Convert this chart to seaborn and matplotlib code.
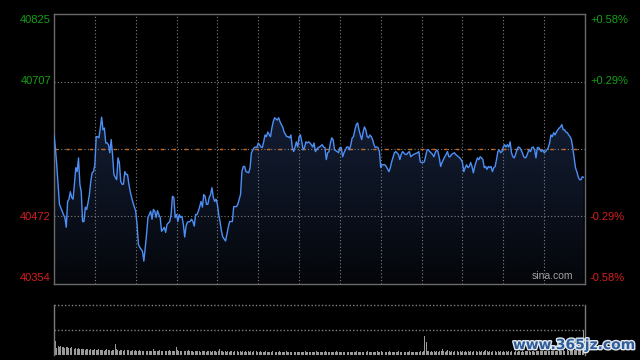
import numpy as np
import matplotlib
matplotlib.use("Agg")
import matplotlib.pyplot as plt
import matplotlib.patheffects as pe
from matplotlib.colors import LinearSegmentedColormap
import seaborn as sns

# intraday index values (minute of session, price)
minute = [0, 1, 2, 3, 4, 6, 7, 8, 9, 10, 11, 12, 13, 14, 15, 16, 17, 18, 19, 20,
          21, 22, 23, 24, 25, 26, 27, 28, 29, 30, 31, 32, 33, 34, 35, 36, 37, 38, 39, 40,
          41, 42, 43, 44, 45, 46, 47, 48, 49, 50, 51, 52, 53, 54, 55, 56, 57, 58, 60, 61,
          62, 63, 65, 66, 67, 68, 69, 70, 71, 72, 73, 74, 75, 76, 77, 78, 79, 80, 81, 82,
          83, 85, 86, 87, 88, 89, 90, 91, 92, 93, 94, 95, 96, 97, 98, 100, 101, 102, 103, 104,
          105, 106, 107, 108, 109, 110, 111, 112, 113, 114, 115, 116, 117, 118, 119, 120, 121, 122, 123, 124,
          126, 127, 128, 129, 130, 131, 132, 134, 135, 137, 138, 139, 140, 141, 143, 144, 145, 147, 148, 149,
          150, 151, 152, 153, 154, 155, 156, 157, 159, 160, 161, 162, 164, 165, 166, 167, 168, 169, 171, 172,
          173, 174, 175, 176, 177, 178, 179, 180, 181, 182, 183, 184, 185, 186, 187, 188, 189, 190, 191, 192,
          194, 195, 197, 198, 199, 200, 201, 202, 203, 204, 205, 206, 208, 209, 210, 211, 212, 213, 214, 215,
          216, 217, 218, 219, 220, 221, 222, 223, 224, 225, 226, 227, 228, 229, 230, 231, 232, 233, 234, 235,
          236, 237, 238, 239, 240, 241, 242, 243, 244, 246, 247, 248, 250, 251, 253, 254, 255, 256, 258, 259,
          260, 261, 262, 264, 265, 267, 268, 269, 270, 271, 272, 274, 275, 276, 278, 279, 280, 281, 282, 283,
          284, 285, 286, 287, 288, 289, 290, 291, 292, 294, 295, 297, 298, 299, 300, 301, 302, 303, 304, 305,
          306, 307, 308, 309, 310, 311, 312, 313, 314, 315, 316, 317, 318, 319, 320, 321, 322, 323, 324, 325,
          326, 327, 328, 329, 330, 331, 332, 333, 334, 335, 336, 337, 338, 339, 340, 341, 342, 343, 344, 345,
          346, 347, 348, 349, 350, 351, 352, 353, 354, 355, 356, 357, 358, 359, 360, 361, 362, 363, 364, 365,
          366, 367, 368, 369, 370, 371, 372, 373, 374, 375, 376, 377, 378, 379, 380, 381, 382, 383, 384, 385,
          386, 387, 388, 389]
price = [40614, 40592, 40562, 40528, 40493, 40481, 40475, 40470, 40453, 40498, 40502, 40515, 40505, 40502, 40528, 40557, 40550, 40574, 40528, 40515,
         40463, 40463, 40488, 40484, 40496, 40510, 40533, 40548, 40550, 40562, 40611, 40611, 40609, 40626, 40645, 40623, 40626, 40600, 40600, 40597,
         40583, 40606, 40580, 40545, 40540, 40536, 40574, 40566, 40533, 40528, 40528, 40550, 40545, 40545, 40528, 40515, 40505, 40496, 40481, 40458,
         40423, 40418, 40411, 40394, 40418, 40441, 40470, 40475, 40481, 40467, 40484, 40481, 40470, 40482, 40475, 40470, 40446, 40449, 40453, 40444,
         40458, 40463, 40475, 40507, 40505, 40470, 40475, 40463, 40475, 40470, 40472, 40458, 40436, 40455, 40462, 40463, 40467, 40463, 40455, 40475,
         40475, 40481, 40489, 40498, 40488, 40510, 40507, 40493, 40493, 40505, 40510, 40522, 40505, 40498, 40502, 40493, 40475, 40462, 40446, 40436,
         40429, 40441, 40453, 40463, 40463, 40463, 40489, 40489, 40493, 40510, 40550, 40559, 40559, 40550, 40548, 40557, 40583, 40592, 40593, 40592,
         40600, 40597, 40593, 40592, 40602, 40614, 40611, 40619, 40611, 40626, 40637, 40644, 40640, 40644, 40637, 40632, 40628, 40619, 40611, 40611,
         40609, 40614, 40592, 40585, 40593, 40602, 40593, 40611, 40614, 40602, 40588, 40592, 40602, 40600, 40602, 40600, 40597, 40593, 40600, 40585,
         40592, 40593, 40597, 40593, 40592, 40571, 40583, 40585, 40600, 40609, 40606, 40588, 40585, 40583, 40592, 40592, 40576, 40583, 40588, 40593,
         40593, 40588, 40597, 40609, 40611, 40623, 40632, 40635, 40623, 40614, 40606, 40619, 40628, 40623, 40611, 40609, 40614, 40611, 40606, 40597,
         40592, 40593, 40592, 40585, 40557, 40562, 40562, 40562, 40559, 40550, 40557, 40567, 40583, 40585, 40580, 40571, 40580, 40585, 40580, 40580,
         40583, 40585, 40576, 40580, 40581, 40583, 40585, 40567, 40566, 40566, 40567, 40588, 40588, 40585, 40580, 40576, 40583, 40588, 40585, 40574,
         40559, 40566, 40571, 40576, 40580, 40585, 40576, 40576, 40580, 40583, 40580, 40576, 40574, 40571, 40566, 40550, 40557, 40562, 40557, 40559,
         40566, 40559, 40548, 40559, 40567, 40574, 40571, 40576, 40574, 40571, 40557, 40559, 40554, 40559, 40557, 40559, 40550, 40557, 40559, 40571,
         40585, 40588, 40583, 40585, 40593, 40597, 40593, 40597, 40593, 40602, 40583, 40576, 40574, 40580, 40588, 40593, 40592, 40588, 40583, 40576,
         40574, 40576, 40583, 40588, 40585, 40592, 40593, 40588, 40574, 40592, 40592, 40588, 40585, 40588, 40583, 40585, 40588, 40592, 40600, 40614,
         40611, 40618, 40614, 40619, 40623, 40626, 40628, 40632, 40623, 40623, 40619, 40618, 40614, 40611, 40606, 40592, 40574, 40557, 40550, 40541,
         40536, 40536, 40541, 40540]

# per-minute volume (relative units, 100 = top of panel)
volume = [28, 15, 18, 17, 18, 16, 17, 15, 16, 17, 15, 14, 16, 14, 13, 15, 13, 14, 12, 13, 12, 13, 11, 12, 13, 11, 12, 10, 11, 12,
          11, 10, 12, 11, 10, 11, 9, 10, 12, 10, 11, 9, 10, 11, 22, 12, 10, 9, 11, 10, 9, 10, 9, 11, 10, 9, 8, 10, 9, 10,
          9, 8, 10, 9, 8, 9, 10, 8, 9, 8, 9, 8, 12, 9, 8, 9, 8, 10, 9, 8, 9, 8, 9, 8, 10, 9, 8, 9, 8, 17,
          10, 9, 8, 9, 8, 9, 8, 9, 10, 8, 9, 8, 7, 9, 8, 9, 8, 7, 8, 9, 8, 7, 8, 9, 8, 7, 8, 9, 8, 7,
          8, 12, 9, 8, 7, 8, 7, 8, 7, 9, 8, 7, 8, 7, 8, 7, 8, 7, 8, 7, 8, 7, 8, 7, 9, 7, 8, 7, 8, 7,
          7, 8, 7, 6, 7, 8, 7, 6, 7, 7, 8, 7, 6, 7, 7, 8, 7, 6, 7, 7, 8, 7, 6, 7, 7, 8, 7, 6, 7, 7,
          7, 6, 7, 7, 8, 7, 6, 7, 7, 6, 7, 7, 8, 7, 6, 7, 7, 6, 7, 8, 7, 6, 7, 7, 6, 7, 7, 8, 7, 6,
          7, 7, 6, 7, 8, 7, 6, 7, 7, 6, 7, 7, 8, 7, 6, 7, 7, 6, 7, 7, 8, 7, 6, 7, 7, 6, 7, 8, 7, 7,
          8, 7, 7, 6, 7, 7, 8, 7, 6, 7, 7, 6, 7, 8, 7, 6, 7, 7, 6, 7, 7, 8, 7, 6, 7, 7, 6, 7, 7, 8,
          7, 8, 38, 27, 9, 8, 7, 8, 7, 8, 7, 8, 7, 8, 9, 13, 8, 7, 8, 10, 8, 7, 8, 7, 8, 7, 8, 7, 8, 7,
          8, 7, 8, 7, 8, 7, 8, 7, 8, 7, 8, 7, 8, 7, 8, 7, 8, 10, 8, 7, 8, 7, 8, 7, 8, 7, 8, 7, 8, 7,
          8, 7, 8, 7, 8, 7, 8, 8, 7, 8, 7, 8, 8, 7, 8, 7, 8, 8, 9, 8, 7, 8, 8, 7, 8, 8, 9, 8, 8, 9,
          8, 9, 8, 8, 9, 8, 9, 9, 8, 9, 9, 10, 9, 9, 10, 9, 10, 10, 9, 10, 12, 10, 11, 10, 11, 12, 11, 12, 13, 50]

left_labels = ["40825", "40707", "40472", "40354"]
right_labels = ["+0.58%", "+0.29%", "-0.29%", "-0.58%"]
label_colors = ["#14a014", "#14a014", "#d41e1e", "#d41e1e"]
label_ypix = [20, 81, 217, 278]

base = 40589.5
ymin, ymax = 40354, 40825

sns.set_theme(style="dark", rc={"axes.facecolor": "black", "figure.facecolor": "black"})
plt.rcParams["font.family"] = ["Liberation Sans", "DejaVu Sans"]

fig = plt.figure(figsize=(6.4, 3.6), dpi=100, facecolor="black")
ax = fig.add_axes([54 / 640, 1 - 284 / 360, 531 / 640, 270 / 360])
axv = fig.add_axes([54 / 640, 1 - 355 / 360, 531 / 640, 50 / 360])

# gradient fill under the line
poly = ax.fill_between(minute, price, ymin, color="none", lw=0)
cmap = LinearSegmentedColormap.from_list("fade", ["#04060a", "#131d33"])
grad = np.linspace(0, 1, 256).reshape(-1, 1)
im = ax.imshow(grad, extent=[0, 390, ymin, max(price)], origin="lower",
               aspect="auto", cmap=cmap, zorder=1)
im.set_clip_path(poly.get_paths()[0], transform=ax.transData)

# grid
for m in range(30, 390, 30):
    ax.axvline(m, color="#808080", ls=(0, (1, 2)), lw=0.8, zorder=2)
for lv in [40707, 40472]:
    ax.axhline(lv, color="#808080", ls=(0, (1, 2)), lw=0.8, zorder=2)
ax.axhline(base, color="#808080", ls=(0, (1, 2)), lw=0.8, zorder=2)
ax.axhline(base, color="#c8681e", ls=(0, (2.5, 6)), lw=1.0, zorder=2)

sns.lineplot(x=minute, y=price, ax=ax, color="#4d8ff5", lw=1.0, zorder=3)

ax.set_xlim(0, 390)
ax.set_ylim(ymin, ymax)
ax.set_xticks([])
ax.set_yticks([])
ax.set_xlabel("")
ax.set_ylabel("")
for s in ax.spines.values():
    s.set_visible(True)
    s.set_color("#6a6a6a")
    s.set_linewidth(1)
ax.text(0.978, 0.012, "sina.com", transform=ax.transAxes, ha="right", va="bottom",
        color="#a0a0a0", fontsize=7.5)

# volume panel
sns.barplot(x=list(range(len(volume))), y=volume, native_scale=True, ax=axv,
            color="#9a9a9a", saturation=1, width=0.7, errorbar=None,
            edgecolor="none", linewidth=0, zorder=2)
axv.set_xlim(-1, 390)
axv.set_ylim(0, 100)
axv.set_xticks([])
axv.set_yticks([])
axv.set_xlabel("")
axv.set_ylabel("")
axv.axhline(100, color="#808080", ls=(0, (1, 1.5)), lw=1.0, clip_on=False)
axv.axhline(50, color="#808080", ls=(0, (1, 1.5)), lw=1.0)
for side, s in axv.spines.items():
    if side in ("left", "right"):
        s.set_visible(True)
        s.set_color("#7a7a7a")
        s.set_linewidth(1)
    else:
        s.set_visible(False)

# side labels
for lab, rlab, c, yp in zip(left_labels, right_labels, label_colors, label_ypix):
    fig.text(51 / 640, 1 - yp / 360, lab, ha="right", va="center", color=c, fontsize=8)
    fig.text(590 / 640, 1 - yp / 360, rlab, ha="left", va="center", color=c, fontsize=8)

fig.text(574 / 640, 1 - 345 / 360, "www.365jz.com", ha="center", va="center",
         color="#2f5d9a", fontsize=10, fontweight="bold", family="DejaVu Sans",
         path_effects=[pe.withStroke(linewidth=2, foreground="#dfe6ee")])

fig.savefig("out.png", dpi=100, facecolor="black")
